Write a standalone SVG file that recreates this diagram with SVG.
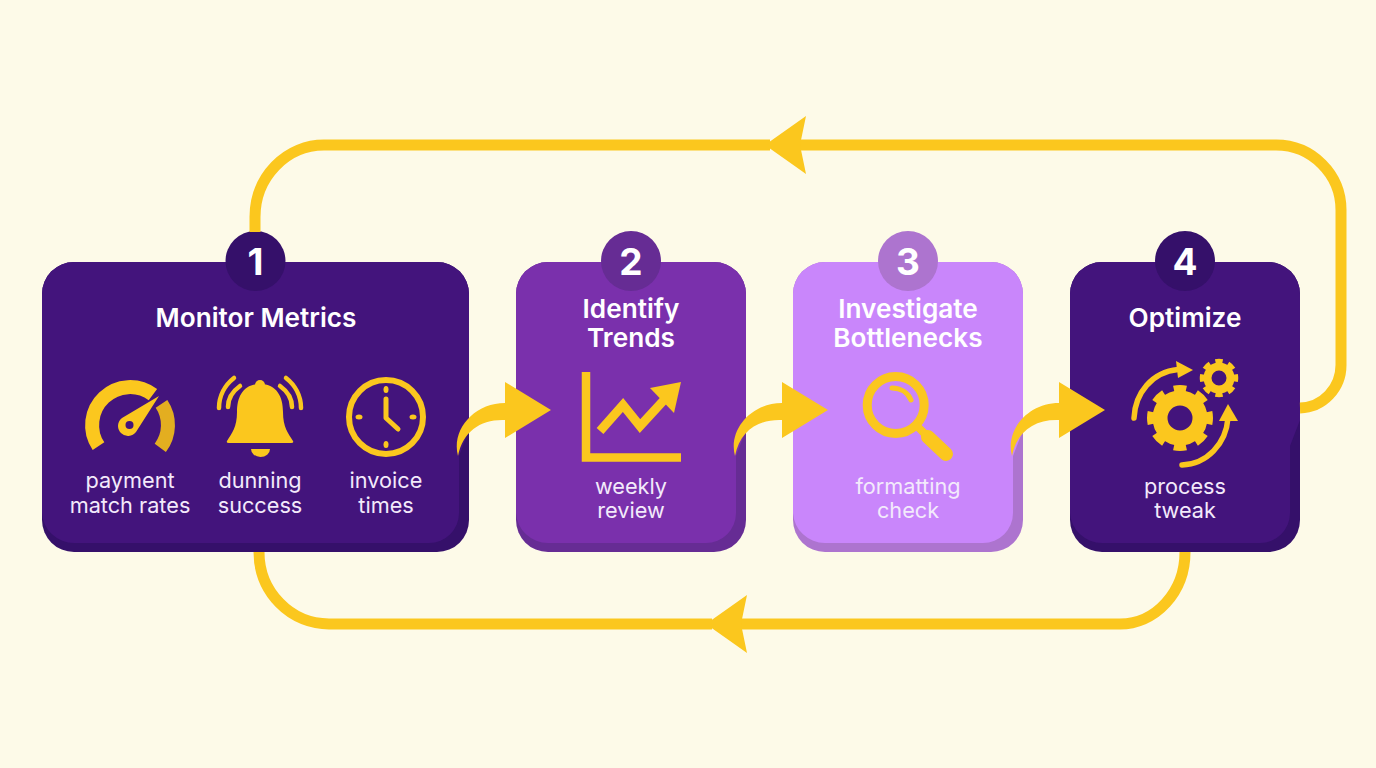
<svg xmlns="http://www.w3.org/2000/svg" width="1376" height="768" viewBox="0 0 1376 768">
<style>
text{font-family:"Inter","Liberation Sans",sans-serif;text-anchor:middle}
.t{font-size:26.200px;font-weight:600;fill:#fff}
.s{font-size:21.700px;font-weight:400;fill:#F3EAFB}
.n{font-size:37px;font-weight:700;fill:#fff}
.dark .b,.dark .c{fill:#35106A}.dark .f{fill:#43147C}
.mid .b,.mid .c{fill:#662C94}.mid .f{fill:#7A30AC}
.light .b,.light .c{fill:#AD74CF}.light .f{fill:#C986FB}
.y{fill:#FBC71E}
.ys{fill:none;stroke:#FBC71E}
.loop{fill:none;stroke:#FBC71E;stroke-width:11}
.r{stroke-linecap:round;stroke-linejoin:round}
</style>
<defs>
<marker id="head" markerUnits="userSpaceOnUse" markerWidth="44" markerHeight="60" viewBox="0 -30 42 60" refX="6" refY="0" orient="auto"><polygon points="0,-29 41,0 0,29 6,0" fill="#FBC71E"/></marker>
<path id="flow" d="M458 456C451 430 474 403 505 403V382L551 410L505 438V420C481 419 463 431 458 456Z" fill="#FBC71E"/>
</defs>
<rect width="1376" height="768" fill="#FDFAE8"/>

<g id="node1" class="dark">
<rect class="b" x="42" y="262" width="427" height="290" rx="32"/>
<path class="f" d="M74 262H437A32 32 0 0 1 469 294V430L459 456V513A30 30 0 0 1 429 543H74A32 32 0 0 1 42 513V294A32 32 0 0 1 74 262Z"/>
<circle class="c" cx="255.500" cy="261" r="30"/>
<text class="n" x="255.500" y="275">1</text>
<text class="t" x="256" y="327">Monitor Metrics</text>
<g id="gauge">
<path d="M98.500 446.200A38 38 0 0 1 152.900 394.700" class="ys" stroke-width="14"/>
<path d="M161.500 403.800A38 38 0 0 1 160.300 447.900" fill="none" stroke="#E3AE20" stroke-width="14"/>
<path class="y" d="M159 396L136 432A10 10 0 1 1 122 418Z"/>
<circle cx="129.500" cy="425" r="4" fill="#43147C"/>
</g>
<g id="bell">
<circle class="y" cx="260" cy="385" r="5"/>
<path class="y" d="M260 384C243 384 237 397 237 412C237 427 232 433 227 441Q226 443 229 443H291Q294 443 293 441C288 433 283 427 283 412C283 397 277 384 260 384Z"/>
<path class="y" d="M251 449H270A9.500 8 0 0 1 251 449Z"/>
<g class="ys r" stroke-width="4.500"><path d="M219 408C219 396 225 385 234 378"/><path d="M228 407C228 398 233 391 240 386"/><path d="M301 408C301 396 295 385 286 378"/><path d="M292 407C292 398 287 391 280 386"/></g>
</g>
<g id="clock">
<circle class="ys" cx="386" cy="417" r="37" stroke-width="6"/>
<g class="y"><ellipse cx="386" cy="389.500" rx="2.500" ry="3.500"/><ellipse cx="386" cy="444.500" rx="2.500" ry="3.500"/><ellipse cx="359" cy="417" rx="3.500" ry="2.500"/><ellipse cx="413" cy="417" rx="3.500" ry="2.500"/></g>
<path class="ys r" stroke-width="5" d="M386 399V418L398 429"/>
</g>
<text class="s" x="130" y="488">payment</text><text class="s" x="130" y="513">match rates</text>
<text class="s" x="260" y="488">dunning</text><text class="s" x="260" y="513">success</text>
<text class="s" x="386" y="488">invoice</text><text class="s" x="386" y="513">times</text>
</g>

<g id="node2" class="mid">
<rect class="b" x="516" y="262" width="230" height="290" rx="32"/>
<path class="f" d="M548 262H714A32 32 0 0 1 746 294V430L736 456V513A30 30 0 0 1 706 543H548A32 32 0 0 1 516 513V294A32 32 0 0 1 548 262Z"/>
<circle class="c" cx="631" cy="261" r="30"/>
<text class="n" x="631" y="275">2</text>
<text class="t" x="631" y="318">Identify</text><text class="t" x="631" y="347">Trends</text>
<g id="chart">
<path class="ys" stroke-width="8.500" d="M586 372V457.500H681"/>
<path class="ys" stroke-width="9" d="M600 431L623 405L640 426L664 400"/>
<polygon class="y" points="681,382 650,388 674,413"/>
</g>
<text class="s" x="631" y="494">weekly</text><text class="s" x="631" y="518">review</text>
</g>

<g id="node3" class="light">
<rect class="b" x="793" y="262" width="230" height="290" rx="32"/>
<path class="f" d="M825 262H991A32 32 0 0 1 1023 294V430L1013 456V513A30 30 0 0 1 983 543H825A32 32 0 0 1 793 513V294A32 32 0 0 1 825 262Z"/>
<circle class="c" cx="908" cy="261" r="30"/>
<text class="n" x="908" y="275">3</text>
<text class="t" x="908" y="318">Investigate</text><text class="t" x="908" y="347">Bottlenecks</text>
<g id="magnifier">
<circle class="ys" cx="895.700" cy="405" r="28.500" stroke-width="9"/>
<path class="ys" stroke-width="8" d="M916 425L930 439"/>
<path class="ys r" stroke-width="14" d="M928 437L946 454"/>
<path class="ys r" stroke-width="5" d="M892 388C901 388 908 393 911 400"/>
</g>
<text class="s" x="908" y="494">formatting</text><text class="s" x="908" y="518">check</text>
</g>

<g id="node4" class="dark">
<rect class="b" x="1070" y="262" width="230" height="290" rx="32"/>
<path class="f" d="M1102 262H1268A32 32 0 0 1 1300 294V420L1290 446V513A30 30 0 0 1 1260 543H1102A32 32 0 0 1 1070 513V294A32 32 0 0 1 1102 262Z"/>
<circle class="c" cx="1185" cy="261" r="30"/>
<text class="n" x="1185" y="275">4</text>
<text class="t" x="1185" y="327">Optimize</text>
<g id="gears">
<circle class="ys" cx="1180" cy="418" r="20" stroke-width="15"/>
<circle class="ys" cx="1180" cy="418" r="29.500" stroke-width="7" pathLength="80" stroke-dasharray="5.400 4.600" stroke-dashoffset="2.700"/>
<circle class="ys" cx="1219" cy="378" r="11.500" stroke-width="8"/>
<circle class="ys" cx="1219" cy="378" r="17" stroke-width="4.500" pathLength="80" stroke-dasharray="5.600 4.400" stroke-dashoffset="2.800"/>
<path class="ys r" stroke-width="5.500" d="M1134 418C1135 393 1152 372 1178 369.500"/>
<polygon class="y" points="1193,370 1176,361 1178,378"/>
<path class="ys r" stroke-width="5.500" d="M1182 465C1207 464 1226 444 1228 418"/>
<polygon class="y" points="1228,404 1219,421 1238,421"/>
</g>
<text class="s" x="1185" y="494">process</text><text class="s" x="1185" y="518">tweak</text>
</g>

<g id="connectors">
<path class="loop" marker-end="url(#head)" d="M1300 408A42 43 0 0 0 1341 365V210A65 65 0 0 0 1276 145H800"/>
<path class="loop" d="M770 145H324A69 72 0 0 0 255 217V232"/>
<path class="loop" marker-end="url(#head)" d="M1185 552A65 72 0 0 1 1120 624H741"/>
<path class="loop" d="M712 624H329A70 72 0 0 1 259 552"/>
<use href="#flow"/>
<use href="#flow" x="277"/>
<use href="#flow" x="554"/>
</g>
</svg>
